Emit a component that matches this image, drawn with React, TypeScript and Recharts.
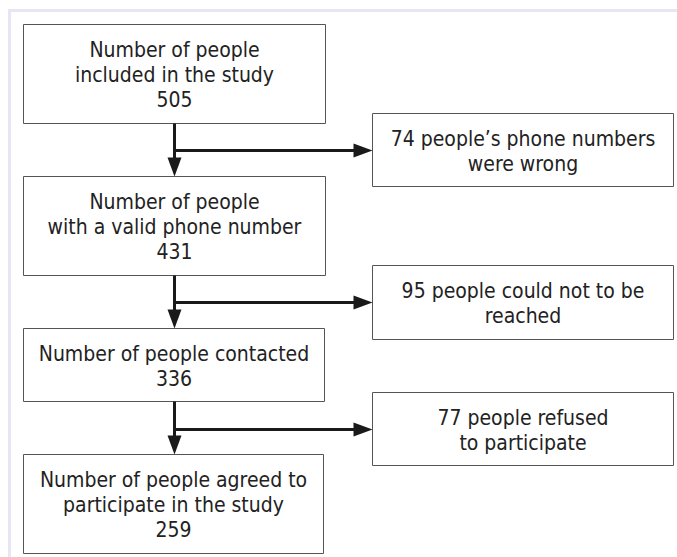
import React from "react";
import { ComposedChart, XAxis, YAxis, ReferenceArea, ReferenceLine } from "recharts";

// flow steps (left column)
const mainLabels: string[][] = [
  ["Number of people", "included in the study"],
  ["Number of people", "with a valid phone number"],
  ["Number of people contacted"],
  ["Number of people agreed to", "participate in the study"],
];
const mainCounts = [505, 431, 336, 259];

// exclusions (right column)
const excludedCounts = [74, 95, 77];
const excludedLabels: string[][] = [
  [`${excludedCounts[0]} people’s phone numbers`, "were wrong"],
  [`${excludedCounts[1]} people could not to be`, "reached"],
  [`${excludedCounts[2]} people refused`, "to participate"],
];

// layout in chart units (1 unit = 1px)
const W = 677;
const H = 557;
const mainX1 = 23.5;
const mainX2 = [325.5, 325.5, 324.5, 323.5];
const mainY = [
  [24.5, 123.5],
  [176.5, 275.5],
  [328.5, 401.5],
  [454.5, 553.5],
];
const sideX = [372.5, 673.5];
const sideY = [
  [113.5, 186.5],
  [265.5, 339.5],
  [392.5, 465.5],
];
const trunkX = 174.5;
const branchY = [150.5, 302.5, 429.5];

const FONT = "'DejaVu Sans Condensed', 'DejaVu Sans', sans-serif";
const LINE_H = 25;

function BoxText(props: any) {
  const { viewBox, lines } = props;
  if (!viewBox) return null;
  const cx = viewBox.x + viewBox.width / 2;
  const cy = viewBox.y + viewBox.height / 2 + 1;
  const n = lines.length;
  return (
    <text
      x={cx}
      textAnchor="middle"
      fontFamily={FONT}
      fontSize={21}
      fill="#222"
    >
      {lines.map((l: string, i: number) => (
        <tspan key={i} x={cx} y={cy + (i - (n - 1) / 2) * LINE_H} dominantBaseline="central">
          {l}
        </tspan>
      ))}
    </text>
  );
}

// line with a filled arrowhead at its end point
function Arrow(props: any) {
  const { x1, y1, x2, y2 } = props;
  if ([x1, y1, x2, y2].some((v) => v == null || isNaN(v))) return null;
  const dx = x2 - x1;
  const dy = y2 - y1;
  const len = Math.sqrt(dx * dx + dy * dy) || 1;
  const ux = dx / len;
  const uy = dy / len;
  const headL = 19;
  const headW = 7;
  const bx = x2 - ux * headL;
  const by = y2 - uy * headL;
  const pts = [
    `${x2},${y2}`,
    `${bx - uy * headW},${by + ux * headW}`,
    `${bx + uy * headW},${by - ux * headW}`,
  ].join(" ");
  return (
    <g>
      <line x1={x1} y1={y1} x2={x2 - ux * 8} y2={y2 - uy * 8} stroke="#1a1a1a" strokeWidth={3} />
      <polygon points={pts} fill="#1a1a1a" />
    </g>
  );
}

export default function App() {
  return (
    <div style={{ position: "fixed", left: 0, top: 0, width: W, height: H, overflow: "hidden", background: "#fff" }}>
      <div
        style={{
          position: "absolute",
          left: 8,
          top: 9,
          right: 0,
          bottom: 0,
          borderTop: "3px solid #e6e6f6",
          borderLeft: "3px solid #e6e6f6",
        }}
      />
      <div style={{ position: "absolute", left: 0, top: 0 }}>
        <ComposedChart width={W} height={H} margin={{ top: 0, right: 0, bottom: 0, left: 0 }} data={[]}>
          <XAxis type="number" dataKey="x" domain={[0, W]} hide allowDataOverflow />
          <YAxis type="number" dataKey="y" domain={[0, H]} reversed hide allowDataOverflow />

          {/* trunk arrows between main boxes */}
          {mainY.slice(0, -1).map((r, i) => (
            <ReferenceLine
              key={`t${i}`}
              segment={[
                { x: trunkX, y: r[1] },
                { x: trunkX, y: mainY[i + 1][0] },
              ]}
              ifOverflow="visible"
              shape={(p: any) => <Arrow {...p} />}
            />
          ))}
          {/* branch arrows to exclusion boxes */}
          {branchY.map((y, i) => (
            <ReferenceLine
              key={`b${i}`}
              segment={[
                { x: trunkX - 1.5, y },
                { x: sideX[0], y },
              ]}
              ifOverflow="visible"
              shape={(p: any) => <Arrow {...p} />}
            />
          ))}

          {mainLabels.map((lines, i) => (
            <ReferenceArea
              key={`m${i}`}
              x1={mainX1}
              x2={mainX2[i]}
              y1={mainY[i][0]}
              y2={mainY[i][1]}
              fill="#fff"
              fillOpacity={1}
              stroke="#555"
              strokeWidth={1}
              ifOverflow="visible"
              label={<BoxText lines={[...lines, String(mainCounts[i])]} />}
            />
          ))}
          {excludedLabels.map((lines, i) => (
            <ReferenceArea
              key={`s${i}`}
              x1={sideX[0]}
              x2={sideX[1]}
              y1={sideY[i][0]}
              y2={sideY[i][1]}
              fill="#fff"
              fillOpacity={1}
              stroke="#555"
              strokeWidth={1}
              ifOverflow="visible"
              label={<BoxText lines={lines} />}
            />
          ))}
        </ComposedChart>
      </div>
    </div>
  );
}
